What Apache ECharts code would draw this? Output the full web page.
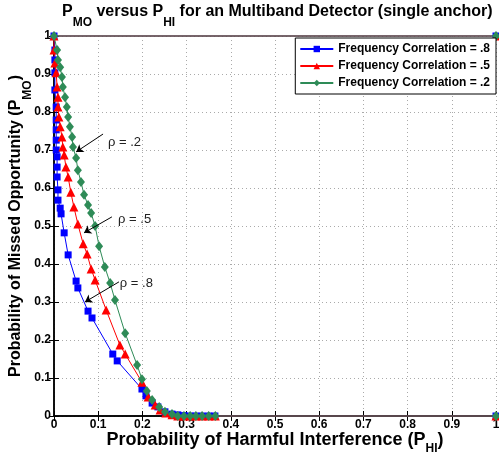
<!DOCTYPE html>
<html>
<head>
<meta charset="utf-8">
<script src="https://cdn.jsdelivr.net/npm/echarts@6/dist/echarts.min.js"></script>
<style>
  html, body { margin: 0; padding: 0; background: #fff; }
  #chart { width: 499px; height: 461px; }
</style>
</head>
<body>
<div id="chart"></div>
<script>
// values: [P_HI, P_MO]
var corr8 = [[1, 1], [0, 1], [0.002, 0.963], [0.002, 0.937], [0.002, 0.903], [0.002, 0.858], [0.005, 0.813],
  [0.005, 0.779], [0.005, 0.753], [0.005, 0.726], [0.005, 0.7], [0.007, 0.682], [0.007, 0.655], [0.007, 0.629],
  [0.009, 0.595], [0.009, 0.568], [0.014, 0.547], [0.016, 0.532], [0.023, 0.482], [0.032, 0.424], [0.05, 0.355],
  [0.054, 0.337], [0.077, 0.276], [0.086, 0.258], [0.133, 0.163], [0.143, 0.145], [0.199, 0.071], [0.208, 0.053],
  [0.222, 0.034], [0.235, 0.024], [0.251, 0.011], [0.267, 0.005], [0.28, 0.003], [0.294, 0.001], [0.308, 0],
  [0.321, 0], [0.335, 0], [0.35, 0], [0.364, 0], [1, 0]];
var corr5 = [[1, 1], [0, 1], [0, 0.963], [0.002, 0.929], [0.005, 0.903], [0.007, 0.866], [0.009, 0.839],
  [0.009, 0.813], [0.011, 0.787], [0.014, 0.761], [0.018, 0.734], [0.02, 0.708], [0.023, 0.687], [0.027, 0.655],
  [0.032, 0.629], [0.038, 0.589], [0.045, 0.55], [0.054, 0.505], [0.066, 0.453], [0.075, 0.426], [0.084, 0.387],
  [0.093, 0.358], [0.118, 0.279], [0.149, 0.187], [0.161, 0.163], [0.199, 0.089], [0.213, 0.05], [0.229, 0.029],
  [0.24, 0.016], [0.253, 0.008], [0.267, 0.003], [0.28, 0], [0.294, 0], [0.308, 0], [0.321, 0], [0.335, 0],
  [0.35, 0], [0.365, 0], [1, 0]];
var corr2 = [[1, 1], [0, 1], [0.007, 0.963], [0.009, 0.937], [0.014, 0.918], [0.018, 0.892], [0.02, 0.866],
  [0.025, 0.839], [0.029, 0.813], [0.032, 0.787], [0.036, 0.761], [0.041, 0.734], [0.043, 0.708], [0.05, 0.679],
  [0.054, 0.647], [0.061, 0.616], [0.068, 0.582], [0.077, 0.555], [0.084, 0.534], [0.093, 0.5], [0.102, 0.447],
  [0.115, 0.392], [0.127, 0.35], [0.138, 0.305], [0.161, 0.218], [0.188, 0.134], [0.199, 0.097], [0.21, 0.066],
  [0.222, 0.042], [0.238, 0.024], [0.251, 0.011], [0.267, 0.005], [0.28, 0], [0.294, 0], [0.308, 0], [0.321, 0],
  [0.335, 0], [0.35, 0], [0.365, 0], [1, 0]];
var seriesNames = ['Frequency Correlation = .8', 'Frequency Correlation = .5', 'Frequency Correlation = .2'];
// annotations: label, arrow start, arrow tip
var notes = [
  {text: 'ρ = .2', from: [0.111, 0.742], to: [0.05, 0.695], at: [0.122, 0.721]},
  {text: 'ρ = .5', from: [0.131, 0.524], to: [0.068, 0.482], at: [0.145, 0.518]},
  {text: 'ρ = .8', from: [0.147, 0.353], to: [0.07, 0.3], at: [0.149, 0.35]}
];

var font = 'Liberation Sans, Arial, sans-serif';
var chart = echarts.init(document.getElementById('chart'));

function sub(main, small) {
  return '{a|' + main + '}{s|' + small + '}';
}
// main text + subscript (subscript pushed down by its top padding)
function rich(size, lh, subSize, drop) {
  return {
    a: {fontSize: size, fontWeight: 'bold', fontFamily: font, color: '#000', lineHeight: lh, verticalAlign: 'top'},
    s: {fontSize: subSize, fontWeight: 'bold', fontFamily: font, color: '#000', lineHeight: subSize, padding: [drop, 0, 0, 0]}
  };
}

var axisCommon = {
  type: 'value', min: 0, max: 1, interval: 0.1,
  axisLine: {show: true, lineStyle: {color: '#000', width: 1.5}},
  axisTick: {show: true, inside: true, length: 5, lineStyle: {color: '#000'}}
};

function make(name, data, color, symbol, size) {
  return {
    name: name, type: 'line', data: data, clip: false,
    symbol: symbol, symbolSize: size, showSymbol: true,
    lineStyle: {color: color, width: 1},
    itemStyle: {color: color},
    emphasis: {disabled: true}
  };
}

var series = [
  make(seriesNames[0], corr8, '#0000ff', 'rect', 7),
  make(seriesNames[1], corr5, '#ff0000', 'triangle', 9),
  make(seriesNames[2], corr2, '#2e8b57', 'diamond', [8, 10])
];
series.push({
  type: 'line', data: [], silent: true,
  markLine: {
    silent: true, symbol: ['none', 'arrow'], symbolSize: 7,
    lineStyle: {color: '#000', width: 1, type: 'solid'},
    label: {show: false},
    data: notes.map(function (n) { return [{coord: n.from}, {coord: n.to}]; })
  },
  markPoint: {
    silent: true, symbol: 'circle', symbolSize: 0,
    label: {show: true, position: 'right', distance: 0, color: '#222', fontSize: 13, fontFamily: font,
      formatter: function (p) { return p.name; }},
    data: notes.map(function (n) { return {name: n.text, coord: n.at}; })
  }
});

var tickLabel = {fontSize: 12, fontWeight: 'bold', fontFamily: font, color: '#000', margin: 3,
  formatter: function (v) { return String(Math.round(v * 10) / 10); }};
var grid = {show: true, lineStyle: {color: '#aaa', type: [1, 3], width: 1}};

chart.setOption({
  animation: false,
  backgroundColor: '#fff',
  title: {
    text: sub('P', 'MO') + '{a| versus }' + sub('P', 'HI') + '{a| for an Multiband Detector (single anchor)}',
    left: 62, top: 4, padding: 0,
    textStyle: {rich: rich(16, 20, 12, 18)}
  },
  legend: {
    data: seriesNames, orient: 'vertical', right: 3, top: 38,
    itemWidth: 33, itemHeight: 8, itemGap: 5,
    padding: [5, 6, 5, 4],
    backgroundColor: '#fff', borderColor: '#000', borderWidth: 1, borderRadius: 0,
    textStyle: {fontSize: 12, fontWeight: 'bold', fontFamily: font, color: '#000'}
  },
  grid: {left: 54, right: 3, top: 36, bottom: 45, containLabel: false, outerBoundsMode: 'none'},
  xAxis: [
    Object.assign({}, axisCommon, {
      position: 'bottom',
      name: sub('Probability of Harmful Interference (P', 'HI') + '{a|)}',
      nameLocation: 'middle', nameGap: 15, nameMoveOverlap: false,
      nameTextStyle: {rich: rich(18, 20, 12, 15)},
      axisLabel: tickLabel,
      splitLine: grid
    }),
    Object.assign({}, axisCommon, {position: 'top', axisLabel: {show: false}, splitLine: {show: false}})
  ],
  yAxis: [
    Object.assign({}, axisCommon, {
      position: 'left',
      name: sub('Probability of Missed Opportunity (P', 'MO') + '{a|)}',
      nameLocation: 'middle', nameGap: 24, nameMoveOverlap: false,
      nameTextStyle: {rich: rich(16, 22, 12, 17)},
      axisLabel: tickLabel,
      splitLine: grid
    }),
    Object.assign({}, axisCommon, {position: 'right', axisLabel: {show: false}, splitLine: {show: false}})
  ],
  series: series
});
</script>
</body>
</html>
